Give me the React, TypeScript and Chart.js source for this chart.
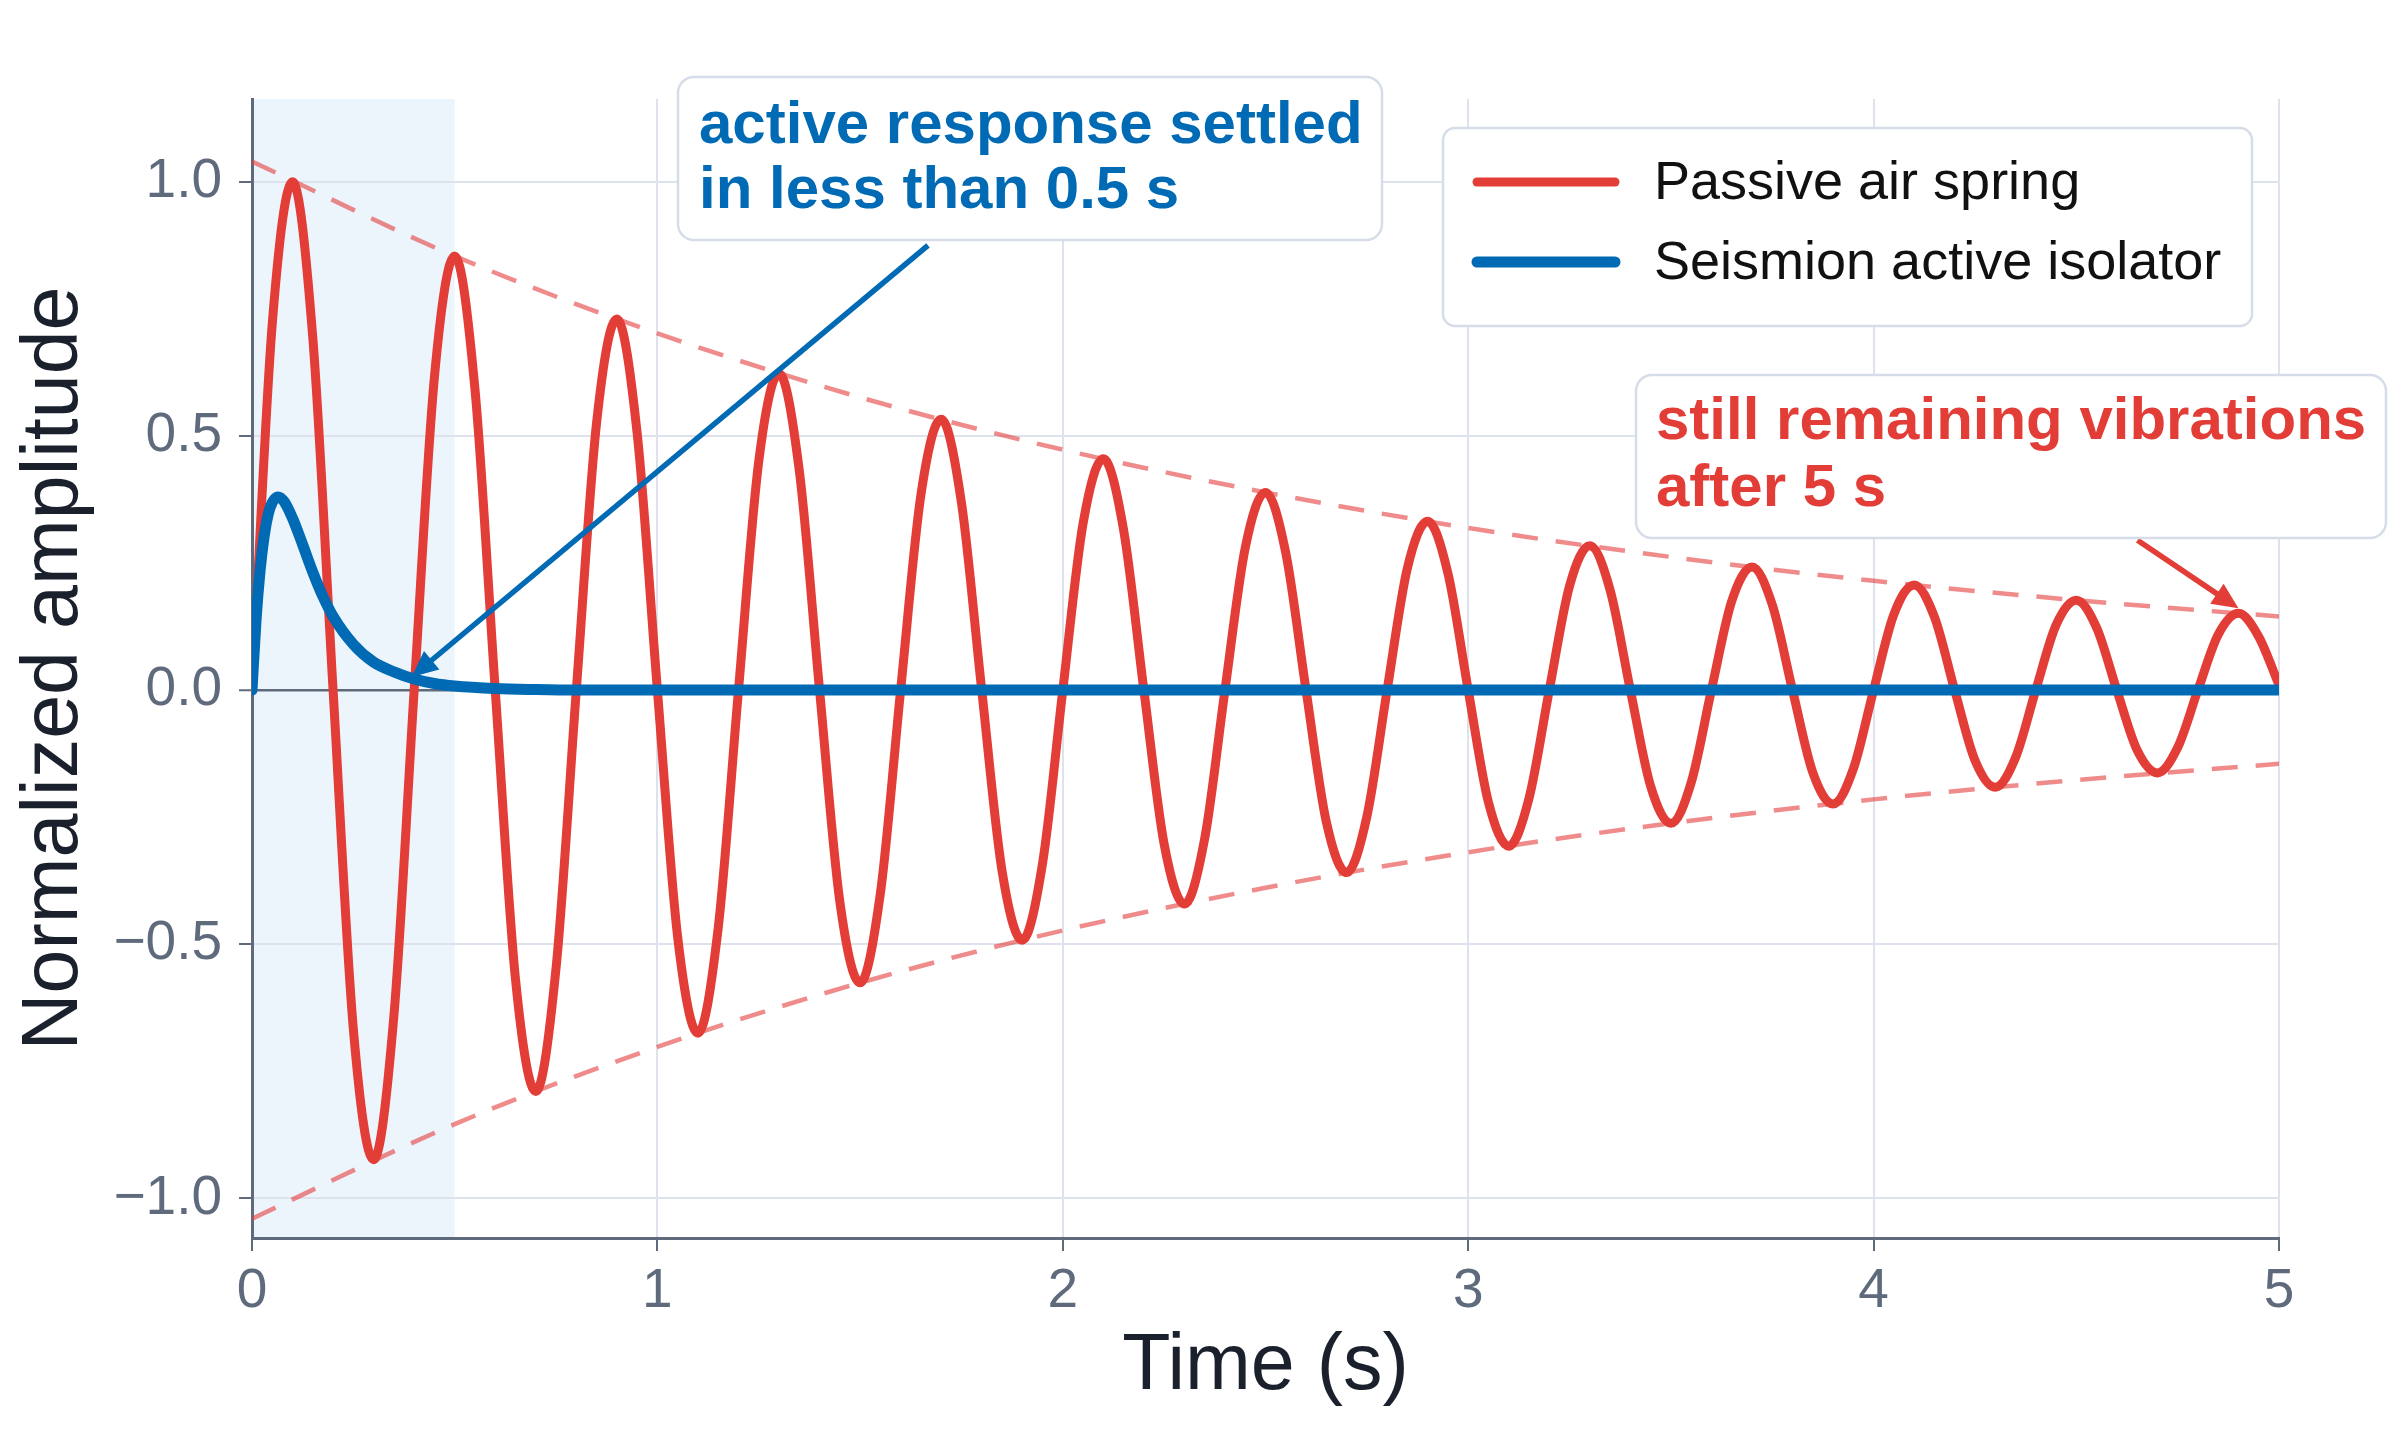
import React, { useEffect, useRef } from "react";
import { Chart, registerables } from "chart.js";

Chart.register(...registerables);

// ---------- data ----------
const TIME = [
  0, 0.05, 0.1, 0.15, 0.2, 0.25, 0.3, 0.35,
  0.4, 0.45, 0.5, 0.55, 0.6, 0.65, 0.7, 0.75,
  0.8, 0.85, 0.9, 0.95, 1.0, 1.05, 1.1, 1.15,
  1.2, 1.25, 1.3, 1.35, 1.4, 1.45, 1.5, 1.55,
  1.6, 1.65, 1.7, 1.75, 1.8, 1.85, 1.9, 1.95,
  2.0, 2.05, 2.1, 2.15, 2.2, 2.25, 2.3, 2.35,
  2.4, 2.45, 2.5, 2.55, 2.6, 2.65, 2.7, 2.75,
  2.8, 2.85, 2.9, 2.95, 3.0, 3.05, 3.1, 3.15,
  3.2, 3.25, 3.3, 3.35, 3.4, 3.45, 3.5, 3.55,
  3.6, 3.65, 3.7, 3.75, 3.8, 3.85, 3.9, 3.95,
  4.0, 4.05, 4.1, 4.15, 4.2, 4.25, 4.3, 4.35,
  4.4, 4.45, 4.5, 4.55, 4.6, 4.65, 4.7, 4.75,
  4.8, 4.85, 4.9, 4.95, 5.0,
];

const PASSIVE = [
  0, 0.721, 1.0, 0.693, 0, -0.667, -0.924, -0.641,
  0, 0.616, 0.854, 0.592, 0, -0.569, -0.79, -0.547,
  0, 0.526, 0.73, 0.506, 0, -0.486, -0.675, -0.468,
  0, 0.45, 0.623, 0.432, 0, -0.416, -0.576, -0.4,
  0, 0.384, 0.533, 0.369, 0, -0.355, -0.492, -0.341,
  0, 0.328, 0.455, 0.315, 0, -0.303, -0.421, -0.292,
  0, 0.28, 0.389, 0.27, 0, -0.259, -0.359, -0.249,
  0, 0.24, 0.332, 0.23, 0, -0.221, -0.307, -0.213,
  0, 0.205, 0.284, 0.197, 0, -0.189, -0.262, -0.182,
  0, 0.175, 0.242, 0.168, 0, -0.162, -0.224, -0.155,
  0, 0.149, 0.207, 0.144, 0, -0.138, -0.191, -0.133,
  0, 0.128, 0.177, 0.123, 0, -0.118, -0.163, -0.113,
  0, 0.109, 0.151, 0.105, 0.01,
];

const ACTIVE_TIME = [
  0, 0.01, 0.02, 0.03, 0.04, 0.05, 0.064, 0.08, 0.1, 0.125, 0.15, 0.175,
  0.2, 0.25, 0.3, 0.35, 0.4, 0.45, 0.5, 0.6, 0.7, 0.8, 1.0, 2.0, 3.0, 4.0, 5.0,
];
const ACTIVE = [
  0, 0.138, 0.236, 0.303, 0.346, 0.369, 0.38, 0.37, 0.338, 0.286, 0.232, 0.184,
  0.145, 0.09, 0.055, 0.036, 0.022, 0.013, 0.008, 0.003, 0.001, 0, 0, 0, 0, 0, 0,
];

const ENV_TIME = [0, 0.5, 1.0, 1.5, 2.0, 2.5, 3.0, 3.5, 4.0, 4.5, 5.0];
const ENV_UPPER = [1.04, 0.854, 0.702, 0.576, 0.473, 0.389, 0.319, 0.262, 0.215, 0.177, 0.145];
const ENV_LOWER = [-1.04, -0.854, -0.702, -0.576, -0.473, -0.389, -0.319, -0.262, -0.215, -0.177, -0.145];

const SERIES_LABELS = ["Passive air spring", "Seismion active isolator"];

const X_TICKS = [0, 1, 2, 3, 4, 5];
const X_TICK_LABELS = ["0", "1", "2", "3", "4", "5"];
const Y_TICKS = [-1, -0.5, 0, 0.5, 1];
const Y_TICK_LABELS = ["\u22121.0", "\u22120.5", "0.0", "0.5", "1.0"];

const X_TITLE = "Time (s)";
const Y_TITLE = "Normalized amplitude";

const SETTLE_WINDOW = [0, 0.5];

const NOTE_ACTIVE = ["active response settled", "in less than 0.5 s"];
const NOTE_PASSIVE = ["still remaining vibrations", "after 5 s"];
// arrow [from t, from y, to t, to y] in data units
const ARROW_ACTIVE = [1.6675, 0.875, 0.394, 0.026];
const ARROW_PASSIVE = [4.651, 0.295, 4.9, 0.161];

// ---------- styles ----------
const FONT = "'Liberation Sans', Arial, Helvetica, sans-serif";
const RED = "#e23d37";
const BLUE = "#006ab4";
const ENV_COLOR = "rgba(229,62,62,0.6)";
const SHADE = "rgba(0,120,200,0.075)";
const AXIS_GRAY = "#5f6b7d";
const GRID = "#dde2ec";
const TITLE_COLOR = "#1a202c";
const BOX_BORDER = "#d6dde9";
const RED_WIDTH = 9;
const BLUE_WIDTH = 11;

const LAYOUT = {
  legend: { x: 1443, y: 128, w: 809, h: 198, r: 12, lineX0: 1477, lineX1: 1615, textX: 1654, rows: [182, 262], font: 54 },
  noteActive: { x: 678, y: 77, w: 704, h: 163, r: 16, textX: 699, baselines: [143, 208] },
  notePassive: { x: 1636, y: 375, w: 750, h: 163, r: 16, textX: 1656, baselines: [439, 506] },
  noteFont: 60,
};

function drawArrow(ctx: CanvasRenderingContext2D, x0: number, y0: number, x1: number, y1: number, color: string) {
  const ang = Math.atan2(y1 - y0, x1 - x0);
  const headLen = 26;
  const headHalf = 12;
  const bx = x1 - headLen * Math.cos(ang);
  const by = y1 - headLen * Math.sin(ang);
  ctx.save();
  ctx.strokeStyle = color;
  ctx.fillStyle = color;
  ctx.lineWidth = 5.5;
  ctx.lineCap = "butt";
  ctx.beginPath();
  ctx.moveTo(x0, y0);
  ctx.lineTo(bx + 2 * Math.cos(ang), by + 2 * Math.sin(ang));
  ctx.stroke();
  ctx.beginPath();
  ctx.moveTo(x1, y1);
  ctx.lineTo(bx + headHalf * Math.sin(ang), by - headHalf * Math.cos(ang));
  ctx.lineTo(bx - headHalf * Math.sin(ang), by + headHalf * Math.cos(ang));
  ctx.closePath();
  ctx.fill();
  ctx.restore();
}

function drawBox(ctx: CanvasRenderingContext2D, b: { x: number; y: number; w: number; h: number; r: number }) {
  ctx.save();
  ctx.beginPath();
  (ctx as any).roundRect(b.x, b.y, b.w, b.h, b.r);
  ctx.fillStyle = "#ffffff";
  ctx.fill();
  ctx.lineWidth = 2.5;
  ctx.strokeStyle = BOX_BORDER;
  ctx.stroke();
  ctx.restore();
}

const overlayPlugin = {
  id: "overlay",
  beforeDraw(chart: any) {
    const { ctx, chartArea, scales } = chart;
    const x0 = scales.x.getPixelForValue(SETTLE_WINDOW[0]);
    const x1 = scales.x.getPixelForValue(SETTLE_WINDOW[1]);
    ctx.save();
    ctx.fillStyle = SHADE;
    ctx.fillRect(x0, chartArea.top, x1 - x0, chartArea.bottom - chartArea.top);
    ctx.restore();
  },
  afterDraw(chart: any) {
    const { ctx, scales } = chart;
    const px = (v: number) => scales.x.getPixelForValue(v);
    const py = (v: number) => scales.y.getPixelForValue(v);

    drawArrow(ctx, px(ARROW_ACTIVE[0]), py(ARROW_ACTIVE[1]), px(ARROW_ACTIVE[2]), py(ARROW_ACTIVE[3]), BLUE);
    drawArrow(ctx, px(ARROW_PASSIVE[0]), py(ARROW_PASSIVE[1]), px(ARROW_PASSIVE[2]), py(ARROW_PASSIVE[3]), RED);

    const notes = [
      { box: LAYOUT.noteActive, lines: NOTE_ACTIVE, color: BLUE },
      { box: LAYOUT.notePassive, lines: NOTE_PASSIVE, color: RED },
    ];
    for (const n of notes) {
      drawBox(ctx, n.box);
      ctx.save();
      ctx.fillStyle = n.color;
      ctx.font = `bold ${LAYOUT.noteFont}px ${FONT}`;
      ctx.textBaseline = "alphabetic";
      ctx.textAlign = "left";
      n.lines.forEach((line, i) => ctx.fillText(line, n.box.textX, n.box.baselines[i]));
      ctx.restore();
    }

    // legend
    const L = LAYOUT.legend;
    drawBox(ctx, L);
    SERIES_LABELS.forEach((label, i) => {
      const ds = chart.data.datasets.find((d: any) => d.label === label);
      if (!ds) return;
      const yRow = L.rows[i];
      ctx.save();
      ctx.strokeStyle = ds.borderColor;
      ctx.lineWidth = ds.borderWidth;
      ctx.lineCap = "round";
      ctx.beginPath();
      ctx.moveTo(L.lineX0, yRow);
      ctx.lineTo(L.lineX1, yRow);
      ctx.stroke();
      ctx.fillStyle = "#111111";
      ctx.font = `${L.font}px ${FONT}`;
      ctx.textBaseline = "middle";
      ctx.textAlign = "left";
      ctx.fillText(label, L.textX, yRow + 2);
      ctx.restore();
    });
  },
};

export default function App() {
  const canvasRef = useRef<HTMLCanvasElement | null>(null);

  useEffect(() => {
    if (!canvasRef.current) return;
    const chart = new Chart(canvasRef.current, {
      type: "line",
      data: {
        datasets: [
          {
            label: SERIES_LABELS[1],
            data: ACTIVE_TIME.map((t, i) => ({ x: t, y: ACTIVE[i] })),
            borderColor: BLUE,
            backgroundColor: BLUE,
            borderWidth: BLUE_WIDTH,
            pointRadius: 0,
            cubicInterpolationMode: "monotone",
            borderCapStyle: "round",
            borderJoinStyle: "round",
            fill: false,
            order: 0,
          },
          {
            label: SERIES_LABELS[0],
            data: TIME.map((t, i) => ({ x: t, y: PASSIVE[i] })),
            borderColor: RED,
            backgroundColor: RED,
            borderWidth: RED_WIDTH,
            pointRadius: 0,
            cubicInterpolationMode: "monotone",
            borderCapStyle: "round",
            borderJoinStyle: "round",
            fill: false,
            order: 1,
          },
          {
            label: "",
            data: ENV_TIME.map((t, i) => ({ x: t, y: ENV_UPPER[i] })),
            borderColor: ENV_COLOR,
            borderWidth: 4.5,
            borderDash: [26, 18],
            pointRadius: 0,
            cubicInterpolationMode: "monotone",
            fill: false,
            order: 2,
          },
          {
            label: "",
            data: ENV_TIME.map((t, i) => ({ x: t, y: ENV_LOWER[i] })),
            borderColor: ENV_COLOR,
            borderWidth: 4.5,
            borderDash: [26, 18],
            pointRadius: 0,
            cubicInterpolationMode: "monotone",
            fill: false,
            order: 2,
          },
        ],
      },
      options: {
        animation: false,
        responsive: true,
        maintainAspectRatio: false,
        devicePixelRatio: 1,
        layout: { padding: { left: 0, top: 99, right: 121, bottom: 0 } },
        plugins: {
          legend: { display: false },
          tooltip: { enabled: false },
        },
        scales: {
          x: {
            type: "linear",
            position: "bottom",
            min: 0,
            max: 5,
            afterBuildTicks: (s: any) => {
              s.ticks = X_TICKS.map((v) => ({ value: v }));
            },
            afterFit: (s: any) => {
              s.height = 202;
            },
            ticks: {
              callback: (v: any) => X_TICK_LABELS[X_TICKS.indexOf(Number(v))] ?? "",
              font: { family: FONT, size: 55 },
              color: AXIS_GRAY,
              padding: 8,
              maxRotation: 0,
              autoSkip: false,
            },
            grid: {
              color: GRID,
              lineWidth: 2,
              tickLength: 13,
              tickColor: AXIS_GRAY,
              tickWidth: 2,
            },
            border: { color: AXIS_GRAY, width: 3 },
            title: {
              display: true,
              text: X_TITLE,
              color: TITLE_COLOR,
              font: { family: FONT, size: 79 },
              padding: { top: 0, bottom: 25 },
            },
          },
          y: {
            type: "linear",
            min: -1.078,
            max: 1.163,
            afterBuildTicks: (s: any) => {
              s.ticks = Y_TICKS.map((v) => ({ value: v }));
            },
            afterFit: (s: any) => {
              s.width = 252;
            },
            ticks: {
              callback: (v: any) => Y_TICK_LABELS[Y_TICKS.indexOf(Number(v))] ?? "",
              font: { family: FONT, size: 55 },
              color: AXIS_GRAY,
              padding: 17,
              autoSkip: false,
            },
            grid: {
              color: (c: any) => (c.tick && c.tick.value === 0 ? AXIS_GRAY : GRID),
              lineWidth: (c: any) => (c.tick && c.tick.value === 0 ? 2.5 : 2),
              tickLength: 13,
              tickColor: AXIS_GRAY,
              tickWidth: 2,
            },
            border: { color: AXIS_GRAY, width: 3 },
            title: {
              display: true,
              text: Y_TITLE,
              color: TITLE_COLOR,
              font: { family: FONT, size: 79 },
              padding: { top: 8, bottom: 0 },
            },
          },
        },
      } as any,
      plugins: [overlayPlugin as any],
    });
    return () => chart.destroy();
  }, []);

  return (
    <div style={{ position: "absolute", left: 0, top: 0, width: "2400px", height: "1440px", background: "#ffffff" }}>
      <canvas ref={canvasRef} />
    </div>
  );
}
